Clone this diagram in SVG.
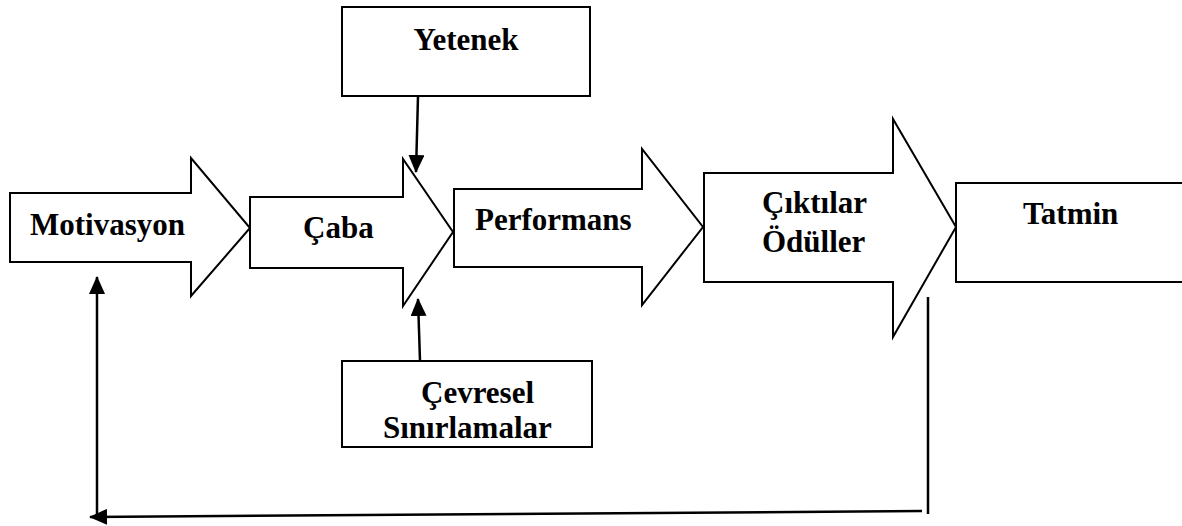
<svg xmlns="http://www.w3.org/2000/svg" width="1182" height="526" viewBox="0 0 1182 526">
<style>
.shape{fill:#fff;stroke:#000;stroke-width:2}
.lbl{font-family:"Liberation Serif","Times New Roman",serif;font-weight:bold;font-size:31px;fill:#000}
.conn{stroke:#000;stroke-width:2.5;fill:none}
</style>
<defs>
<marker id="ah" markerUnits="userSpaceOnUse" markerWidth="18" markerHeight="16" viewBox="0 0 18 16" refX="17" refY="8" orient="auto">
<path d="M0,0 L18,8 L0,16 Z" fill="#000"/>
</marker>
</defs>
<rect width="1182" height="526" fill="#fff"/>
<g id="motivasyon">
<polygon class="shape" points="10,193 191,193 191,158 250,228 191,296 191,262 10,262"/>
<text class="lbl" x="30" y="235">Motivasyon</text>
</g>
<g id="caba">
<polygon class="shape" points="250,197 403,197 403,159 453,232 403,306 403,268 250,268"/>
<text class="lbl" x="303" y="238">Çaba</text>
</g>
<g id="performans">
<polygon class="shape" points="454,189 642,189 642,149 703,227 642,305 642,267 454,267"/>
<text class="lbl" x="475" y="230">Performans</text>
</g>
<g id="ciktilar">
<polygon class="shape" points="704,173 893,173 893,119 956,227 893,337 893,282 704,282"/>
<text class="lbl" x="762" y="213">Çıktılar</text>
<text class="lbl" x="762" y="252">Ödüller</text>
</g>
<g id="tatmin">
<rect class="shape" x="956" y="183" width="230" height="99"/>
<text class="lbl" x="1023" y="224">Tatmin</text>
</g>
<g id="yetenek">
<rect class="shape" x="342" y="7" width="248" height="89"/>
<text class="lbl" x="466" y="50" text-anchor="middle">Yetenek</text>
</g>
<g id="cevresel">
<rect class="shape" x="342" y="361" width="250" height="86"/>
<text class="lbl" x="421" y="403">Çevresel</text>
<text class="lbl" x="383" y="438">Sınırlamalar</text>
</g>
<g id="connectors">
<line class="conn" x1="418" y1="96" x2="416" y2="172" marker-end="url(#ah)"/>
<line class="conn" x1="420" y1="361" x2="418" y2="299" marker-end="url(#ah)"/>
<line class="conn" x1="928" y1="297" x2="928" y2="514"/>
<line class="conn" x1="922" y1="511" x2="90" y2="517" marker-end="url(#ah)"/>
<line class="conn" x1="97" y1="517" x2="97" y2="277" marker-end="url(#ah)"/>
</g>
</svg>
